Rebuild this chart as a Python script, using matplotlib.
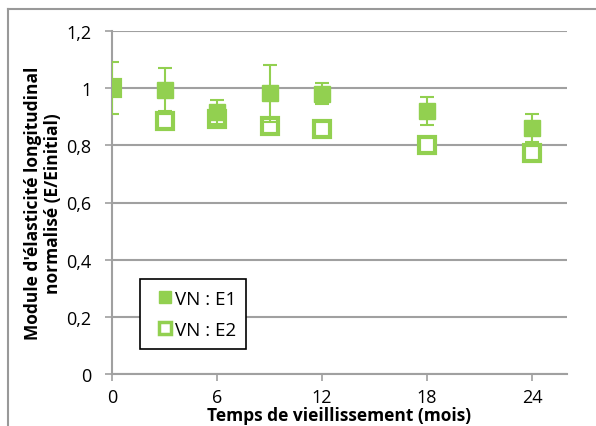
import numpy as np
import matplotlib.pyplot as plt
from matplotlib.ticker import FuncFormatter
from matplotlib.lines import Line2D

plt.rcParams['font.family'] = ['Open Sans', 'DejaVu Sans']

months = [0, 3, 6, 9, 12, 18, 24]
e1 = [1.0, 0.995, 0.915, 0.982, 0.98, 0.92, 0.86]
e1_err = [0.09, 0.075, 0.042, 0.10, 0.037, 0.05, 0.05]
e2 = [1.0, 0.886, 0.892, 0.866, 0.857, 0.802, 0.772]
xticks = [0, 6, 12, 18, 24]
yticks = [0, 0.2, 0.4, 0.6, 0.8, 1.0, 1.2]

green = '#92D050'
grid = '#a0a0a0'

fig = plt.figure(figsize=(5.96, 4.27), dpi=100)
ax = fig.add_axes([112/596, 1-375/427, 455/596, 343/427])

ax.plot(months, e2, ls='none', marker='s', ms=12, mfc='white', mec=green, mew=3, zorder=3)
ax.errorbar(months, e1, yerr=e1_err, fmt='s', ms=11, color=green, ecolor=green,
            elinewidth=1.5, capsize=5, capthick=1.5, zorder=4)

ax.set_xlim(0, 26)
ax.set_ylim(0, 1.2)
ax.set_xticks(xticks)
ax.set_yticks(yticks)
fmt = FuncFormatter(lambda v, p: f'{v:g}'.replace('.', ','))
ax.yaxis.set_major_formatter(fmt)
ax.yaxis.grid(True, color=grid, lw=1.5)
ax.set_axisbelow(True)
for s in ['top', 'right']:
    ax.spines[s].set_visible(False)
for s in ['left', 'bottom']:
    ax.spines[s].set_color(grid)
    ax.spines[s].set_linewidth(1.5)
ax.tick_params(axis='both', direction='out', length=5, width=1.2, color=grid,
               labelsize=13)
ax.tick_params(axis='y', pad=10)
ax.tick_params(axis='x', pad=5)

ax.set_xlabel('Temps de vieillissement (mois)', fontsize=12.5, fontweight='bold', labelpad=0)
ax.set_ylabel("Module d'élasticité longitudinal\nnormalisé (E/Einitial)", fontsize=12.5,
              fontweight='bold', labelpad=3, linespacing=1.1)

handles = [
    Line2D([], [], ls='none', marker='s', ms=8, color=green),
    Line2D([], [], ls='none', marker='s', ms=8, mfc='white', mec=green, mew=2.5),
]
leg = ax.legend(handles, ['VN : E1', 'VN : E2'], loc='lower left',
                bbox_to_anchor=(0.062, 0.073), fontsize=13.5, fancybox=False,
                framealpha=1, edgecolor='black', handlelength=1.5, handletextpad=-0.2,
                borderpad=0.55, labelspacing=0.7, borderaxespad=0)
leg.get_frame().set_linewidth(1.2)

# outer chart border
fig.add_artist(Line2D([8/596, 1], [1-10/427, 1-10/427], color='#999999', lw=1.5))
fig.add_artist(Line2D([8/596, 8/596], [0, 1-10/427], color='#999999', lw=1.5))

fig.savefig('out.png', dpi=100)
